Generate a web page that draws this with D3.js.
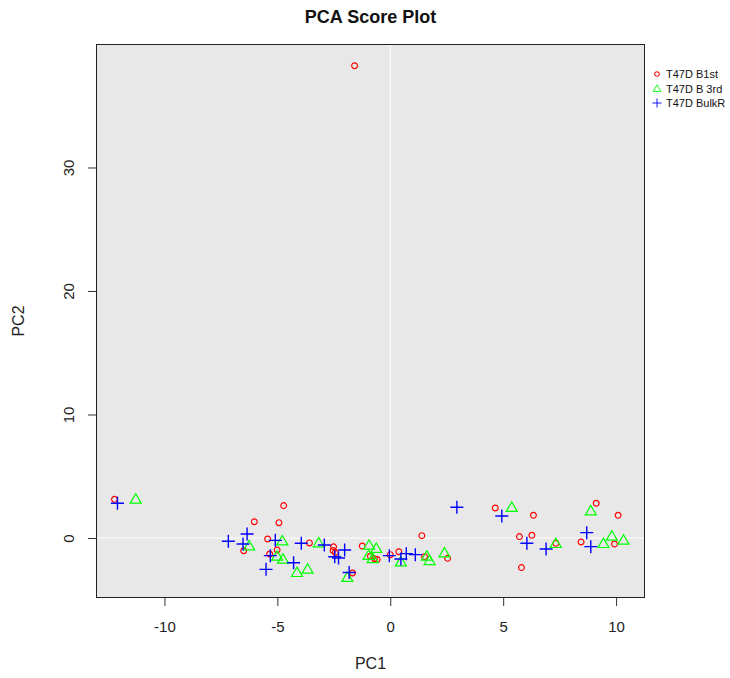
<!DOCTYPE html>
<html>
<head>
<meta charset="utf-8">
<script src="https://cdn.jsdelivr.net/npm/d3@7"></script>
<style>
  html, body { margin: 0; padding: 0; background: #ffffff; }
  svg { display: block; font-family: "Liberation Sans", Arial, sans-serif; }
</style>
</head>
<body>
<svg id="chart" width="730" height="678"></svg>
<script>
// PCA scores, one array per sample group: [PC1, PC2]
const groupNames = ["T47D B1st", "T47D B 3rd", "T47D BulkR"];
const groupColors = ["#ff0000", "#00ff00", "#0000ff"];

const b1stScores = [
  [-12.21, 3.13], [-4.72, 2.62], [-6.02, 1.32], [-4.93, 1.24], [-5.43, -0.08],
  [-6.49, -1.03], [-5.01, -0.97], [-5.34, -1.30], [-3.58, -0.40], [-2.51, -0.72],
  [-2.53, -1.02], [-2.43, -1.17], [-1.67, -2.83], [-1.24, -0.65], [-0.88, -1.48],
  [-0.70, -1.68], [-0.58, -1.75], [0.00, -1.35], [0.38, -1.11], [1.40, 0.19],
  [1.52, -1.51], [2.54, -1.65], [4.65, 2.43], [6.34, 1.84], [5.72, 0.11],
  [6.27, 0.22], [7.33, -0.43], [5.81, -2.40], [9.12, 2.81], [10.09, 1.84],
  [9.93, -0.49], [8.45, -0.32], [-1.58, 38.24]
];

const b3rdScores = [
  [-11.27, 3.16], [-6.25, -0.62], [-4.78, -0.22], [-5.01, -1.46], [-4.75, -1.70],
  [-4.13, -2.78], [-3.66, -2.51], [-3.17, -0.38], [-1.90, -3.18], [-0.94, -0.57],
  [-0.62, -0.83], [-0.96, -1.40], [-0.78, -1.65], [0.47, -1.92], [1.62, -1.46],
  [1.74, -1.81], [2.40, -1.19], [5.38, 2.49], [7.33, -0.43], [8.88, 2.21],
  [9.81, 0.16], [10.33, -0.16], [9.44, -0.43]
];

const bulkRScores = [
  [-12.08, 2.81], [-6.34, 0.32], [-7.17, -0.27], [-6.52, -0.49], [-5.09, -0.19],
  [-5.31, -1.43], [-4.28, -2.00], [-5.50, -2.54], [-3.94, -0.43], [-2.92, -0.57],
  [-2.46, -1.52], [-2.29, -1.62], [-2.02, -0.97], [-1.82, -2.80], [-0.04, -1.43],
  [0.71, -1.27], [1.11, -1.35], [0.47, -1.70], [2.95, 2.49], [4.94, 1.78],
  [6.05, -0.43], [6.90, -0.89], [8.70, 0.43], [8.88, -0.70]
];

const xTicks = [-10, -5, 0, 5, 10];
const yTicks = [0, 10, 20, 30];
const xDomain = [-13.03, 11.28];
const yDomain = [-4.86, 40.0];

const svg = d3.select("#chart");
const plot = { left: 96, right: 645, top: 44, bottom: 598 };

const x = d3.scaleLinear().domain(xDomain).range([plot.left, plot.right]);
const y = d3.scaleLinear().domain(yDomain).range([plot.bottom, plot.top]);

// panel background
svg.append("rect")
  .attr("x", plot.left).attr("y", plot.top)
  .attr("width", plot.right - plot.left).attr("height", plot.bottom - plot.top)
  .attr("fill", "#e8e8e8");

// zero reference lines
svg.append("line")
  .attr("x1", x(0)).attr("x2", x(0)).attr("y1", plot.top).attr("y2", plot.bottom)
  .attr("stroke", "#ffffff").attr("stroke-width", 1);
svg.append("line")
  .attr("x1", plot.left).attr("x2", plot.right).attr("y1", y(0)).attr("y2", y(0))
  .attr("stroke", "#ffffff").attr("stroke-width", 1);

// axes
const xAxis = d3.axisBottom(x).tickValues(xTicks).tickSize(8).tickPadding(15)
  .tickFormat(d => d < 0 ? "-" + Math.abs(d) : String(d));
const gx = svg.append("g").attr("transform", `translate(0,${plot.bottom})`).call(xAxis);
gx.select(".domain").remove();
gx.selectAll("line").attr("stroke", "#333");
gx.selectAll("text").attr("font-size", 15).attr("fill", "#222")
  .attr("font-family", "Liberation Sans, Arial, sans-serif");

const yAxis = d3.axisLeft(y).tickValues(yTicks).tickSize(8).tickPadding(0);
const gy = svg.append("g").attr("transform", `translate(${plot.left},0)`).call(yAxis);
gy.select(".domain").remove();
gy.selectAll("line").attr("stroke", "#333");
gy.selectAll("text")
  .attr("x", null).attr("dy", null)
  .attr("transform", "translate(-28,0) rotate(-90)")
  .attr("text-anchor", "middle")
  .attr("dominant-baseline", "central")
  .attr("font-size", 15).attr("fill", "#222")
  .attr("font-family", "Liberation Sans, Arial, sans-serif");

// frame
svg.append("rect")
  .attr("x", plot.left + 0.5).attr("y", plot.top + 0.5)
  .attr("width", plot.right - plot.left - 1).attr("height", plot.bottom - plot.top - 1)
  .attr("fill", "none").attr("stroke", "#222").attr("stroke-width", 1);

// marker shapes: open circle, open triangle, plus
const markerPath = [
  "M2.9,0A2.9,2.9,0,1,1,-2.9,0A2.9,2.9,0,1,1,2.9,0Z",
  "M0,-5.2L5.5,4.2L-5.5,4.2Z",
  "M-6.5,0L6.5,0M0,-6.5L0,6.5"
];

const groups = [b1stScores, b3rdScores, bulkRScores];

groups.forEach((scores, gi) => {
  svg.append("g").selectAll("path")
    .data(scores)
    .join("path")
    .attr("transform", d => `translate(${x(d[0])},${y(d[1])})`)
    .attr("d", markerPath[gi])
    .attr("fill", "none")
    .attr("stroke", groupColors[gi])
    .attr("stroke-width", gi === 2 ? 1.4 : 1.2);
});

// title
svg.append("text")
  .attr("x", (plot.left + plot.right) / 2).attr("y", 23)
  .attr("text-anchor", "middle")
  .attr("font-size", 18).attr("font-weight", "bold").attr("fill", "#111")
  .text("PCA Score Plot");

// axis titles
svg.append("text")
  .attr("x", (plot.left + plot.right) / 2).attr("y", 669)
  .attr("text-anchor", "middle")
  .attr("font-size", 16).attr("fill", "#222")
  .text("PC1");

svg.append("text")
  .attr("transform", `translate(24,${(plot.top + plot.bottom) / 2}) rotate(-90)`)
  .attr("text-anchor", "middle")
  .attr("font-size", 16).attr("fill", "#222")
  .text("PC2");

// legend
const legend = svg.append("g").attr("transform", "translate(657,74)");
groupNames.forEach((name, gi) => {
  const row = legend.append("g").attr("transform", `translate(0,${gi * 14.5})`);
  const scale = gi === 0 ? 0.8 : 0.7;
  row.append("path")
    .attr("d", markerPath[gi])
    .attr("transform", `scale(${scale})`)
    .attr("fill", "none")
    .attr("stroke", groupColors[gi])
    .attr("stroke-width", 1.3);
  row.append("text")
    .attr("x", 9).attr("y", 0)
    .attr("dominant-baseline", "central")
    .attr("font-size", 11).attr("fill", "#111")
    .text(name);
});
</script>
</body>
</html>
